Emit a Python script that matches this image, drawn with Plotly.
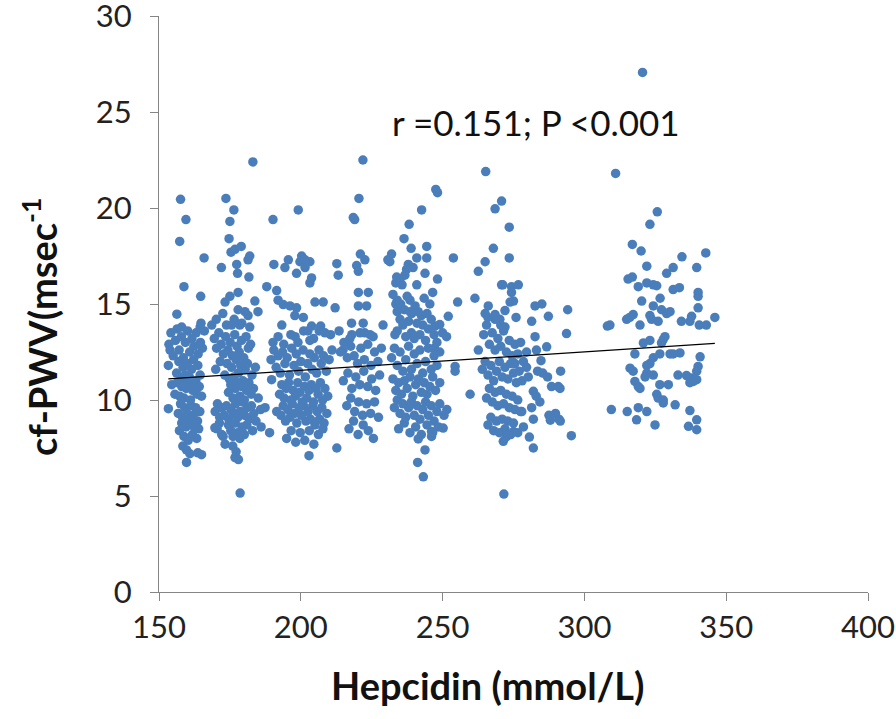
import plotly.graph_objects as go

# ---- data: (hepcidin, cf-PWV) pairs, per vertical cluster ----
cluster_a = [
    (157.6, 20.45), (159.5, 19.4), (157.3, 18.26), (165.9, 17.4), (158.8, 15.9), (164.7, 15.4),
    (156.3, 14.47), (164.8, 14.0), (164.5, 13.8), (158.0, 13.8),
    (153.9, 12.6), (153.3, 11.8), (154.5, 10.8), (153.3, 9.55), (159.7, 6.75), (163.7, 7.25), (165.0, 7.15),
    (153.5, 12.9), (154.2, 13.5), (155.0, 12.3), (155.8, 13.1), (156.4, 13.7), (157.1, 12.6), (157.9, 13.3),
    (158.6, 12.2), (159.3, 13.0), (160.1, 13.6), (160.8, 12.5), (161.6, 13.2), (162.3, 12.8), (163.1, 13.5),
    (163.8, 12.4), (164.6, 13.0), (165.3, 12.7),
    (156.2, 11.4), (157.0, 12.0), (157.8, 11.1), (158.5, 11.7), (159.2, 11.3), (160.0, 11.9), (160.7, 11.2),
    (161.5, 11.6), (162.2, 12.1), (163.0, 11.0), (163.7, 11.8), (164.5, 11.3),
    (155.6, 10.3), (156.5, 10.9), (157.3, 10.2), (158.0, 10.7), (158.8, 10.1), (159.6, 10.6), (160.3, 10.9),
    (161.1, 10.0), (161.9, 10.5), (162.6, 10.8), (163.4, 10.3), (164.2, 10.7), (165.0, 10.2),
    (156.8, 9.3), (157.6, 9.8), (158.3, 9.1), (159.1, 9.6), (159.9, 9.3), (160.6, 9.0), (161.4, 9.7),
    (162.1, 9.2), (162.9, 9.6), (163.6, 8.9), (164.4, 9.4),
    (157.2, 8.4), (158.0, 8.8), (158.8, 8.1), (159.5, 8.6), (160.3, 7.9), (161.0, 8.7), (161.8, 8.2),
    (162.5, 8.6), (163.3, 8.0), (164.0, 8.5), (158.4, 7.6), (159.7, 7.4), (160.9, 7.2),
]

cluster_b = [
    (173.6, 20.5), (176.4, 19.9), (175.0, 19.3), (174.7, 18.4), (176.8, 17.85), (179.0, 18.0), (175.4, 17.7),
    (172.0, 16.9), (177.4, 17.06), (177.7, 16.6), (181.4, 17.3), (182.0, 17.5), (181.7, 16.4), (183.1, 22.4),
    (177.9, 15.6), (175.0, 15.4), (173.3, 15.1), (183.8, 15.15), (177.9, 14.7), (180.3, 14.6), (181.4, 14.4),
    (184.9, 14.6), (175.6, 13.9), (178.5, 13.9), (188.0, 15.9),
    (170.2, 14.2), (172.5, 14.5), (173.8, 13.9), (176.5, 14.2), (179.2, 14.0), (182.0, 13.8), (168.6, 13.9), (166.0, 13.6),
    (169.5, 13.2), (170.3, 12.7), (171.1, 13.5), (171.9, 12.9), (172.7, 12.4), (173.5, 13.3), (174.3, 12.6),
    (175.1, 13.0), (175.9, 12.3), (176.7, 13.4), (177.5, 12.8), (178.3, 12.5), (179.1, 13.1), (179.9, 12.2),
    (180.7, 13.3), (181.5, 12.7), (182.3, 12.9),
    (170.0, 11.6), (171.6, 12.0), (173.2, 11.3), (174.0, 11.9), (174.8, 11.1), (175.6, 11.7), (176.4, 11.2),
    (177.2, 12.1), (178.0, 11.4), (178.8, 11.8), (179.6, 11.0), (180.4, 11.6), (181.2, 11.9), (182.8, 11.3), (184.0, 11.7),
    (174.5, 10.4), (175.3, 10.8), (176.1, 10.1), (176.9, 10.6), (177.7, 10.9), (178.5, 10.2), (179.3, 10.7),
    (180.1, 10.0), (180.9, 10.5), (181.7, 10.9), (182.5, 10.3), (183.3, 10.6), (185.0, 10.1),
    (169.8, 9.4), (170.6, 9.8), (171.4, 9.1), (172.2, 9.6), (173.0, 9.2), (173.8, 9.7), (174.6, 9.0),
    (175.4, 9.5), (176.2, 9.3), (177.0, 9.8), (177.8, 9.1), (178.6, 9.4), (179.4, 9.9), (180.2, 9.2),
    (181.0, 9.6), (181.8, 9.0), (182.6, 9.7), (183.4, 9.3), (184.2, 8.9), (185.8, 9.5),
    (170.5, 8.5), (171.3, 8.8), (172.1, 8.2), (174.5, 8.7), (175.3, 8.4), (176.1, 8.1), (176.9, 8.8),
    (177.7, 8.3), (178.5, 8.0), (179.3, 8.6), (180.1, 8.2), (181.0, 8.7), (183.0, 8.4), (186.0, 8.6),
    (176.0, 7.6), (177.2, 7.3), (178.0, 6.9),
    (169.7, 8.55), (172.6, 8.1), (173.3, 7.7), (176.8, 7.0), (178.6, 5.15), (189.0, 8.3), (187.4, 9.6),
]

cluster_c = [
    (190.2, 19.4), (190.5, 17.06), (199.1, 19.9), (200.3, 17.5), (201.5, 17.3), (199.7, 17.2), (195.6, 17.3),
    (194.4, 16.9), (203.2, 17.2), (201.5, 16.9), (198.5, 16.6), (203.8, 16.36), (203.2, 16.1),
    (191.5, 15.7), (192.0, 15.2), (193.8, 14.97), (196.2, 14.9), (198.5, 14.8), (197.9, 14.4), (200.9, 14.3),
    (205.0, 15.1), (207.9, 15.1), (193.3, 13.9), (203.8, 13.85), (207.0, 13.85),
    (191.5, 9.4), (189.7, 11.06), (212.7, 7.5), (202.9, 7.1),
    (189.5, 12.1), (190.5, 12.6), (191.3, 11.7), (192.0, 12.3), (192.8, 11.4), (193.6, 12.5), (194.4, 11.9),
    (195.2, 12.2), (196.0, 11.3), (196.8, 12.7), (197.6, 11.8), (198.4, 12.4), (199.2, 11.5), (200.0, 12.0),
    (200.8, 12.6), (201.6, 11.2), (202.4, 11.9), (203.2, 12.4), (204.0, 11.6), (204.8, 12.2), (205.6, 11.4),
    (206.4, 12.6), (207.2, 11.9), (208.0, 12.3), (209.0, 11.5), (210.0, 12.1), (211.0, 12.6),
    (192.5, 10.3), (193.3, 10.8), (194.1, 10.1), (194.9, 10.6), (195.7, 10.9), (196.5, 10.0), (197.3, 10.5),
    (198.1, 10.2), (198.9, 10.9), (199.7, 10.4), (200.5, 9.9), (201.3, 10.7), (202.1, 10.1), (202.9, 10.5),
    (203.7, 10.8), (204.5, 9.9), (205.3, 10.6), (206.1, 10.3), (206.9, 10.9), (207.7, 10.0), (208.5, 10.6), (209.5, 10.2),
    (193.0, 9.2), (193.8, 9.7), (194.6, 8.9), (195.4, 9.5), (196.2, 9.1), (197.0, 9.8), (197.8, 9.3),
    (198.6, 8.8), (199.4, 9.6), (200.2, 9.2), (201.0, 9.7), (201.8, 8.9), (202.6, 9.4), (203.4, 9.0),
    (204.2, 9.7), (205.0, 8.7), (205.8, 9.4), (206.6, 9.0), (207.4, 9.6), (208.2, 8.8), (209.2, 9.3),
    (195.0, 8.0), (196.6, 8.4), (198.2, 7.8), (199.8, 8.3), (201.4, 7.9), (203.0, 8.4), (204.6, 7.7),
    (206.2, 8.2), (207.8, 8.5),
    (190.2, 13.0), (192.0, 13.3), (194.0, 12.9), (196.5, 13.4), (198.0, 13.3), (199.0, 13.0), (201.0, 13.6),
    (202.5, 13.6), (204.5, 13.2), (206.5, 13.6), (208.5, 13.5), (210.5, 13.4), (203.2, 13.1),
]

cluster_d = [
    (220.5, 20.5), (218.5, 19.5), (219.0, 19.4), (221.9, 22.5), (212.7, 17.1), (213.2, 16.5), (221.0, 17.6),
    (222.6, 17.3), (219.7, 17.0), (220.3, 16.7), (212.1, 14.8), (220.3, 15.6), (223.8, 15.6), (220.3, 14.9),
    (223.2, 14.9), (217.9, 14.0), (222.0, 14.0), (229.0, 13.9),
    (220.9, 13.5), (224.4, 13.4), (217.3, 13.2), (214.9, 12.6),
    (214.0, 12.5), (215.2, 13.0), (216.4, 12.2), (217.6, 12.8), (218.8, 12.3), (220.0, 11.9), (221.2, 12.7),
    (222.4, 12.1), (223.6, 12.9), (224.8, 11.8), (226.0, 12.5), (227.2, 12.0), (228.4, 12.7),
    (215.0, 11.0), (216.6, 11.4), (218.0, 10.6), (219.4, 11.2), (220.8, 10.8), (222.2, 11.5), (223.6, 10.7),
    (225.0, 11.1), (226.4, 10.5), (227.8, 11.3),
    (216.2, 9.7), (217.6, 10.1), (219.0, 9.4), (220.4, 9.9), (221.8, 9.2), (223.2, 9.8), (224.6, 9.3),
    (226.0, 9.9), (227.4, 9.1),
    (217.0, 8.5), (218.6, 8.9), (220.2, 8.2), (222.0, 8.7), (223.8, 8.4), (225.6, 8.0),
    (213.5, 13.6), (218.0, 13.4), (222.5, 13.5), (225.5, 13.3),
]

cluster_e = [
    (247.6, 20.97), (248.2, 20.8), (242.6, 19.9), (238.2, 19.15), (236.4, 18.4), (238.9, 17.9), (244.4, 18.0),
    (230.7, 17.3), (232.0, 17.6), (231.4, 17.2), (240.9, 17.4), (244.4, 17.4), (253.8, 17.4),
    (237.9, 17.06), (239.6, 16.9), (237.3, 16.8), (243.8, 16.6), (233.8, 16.4), (235.0, 16.3), (233.5, 16.1),
    (235.7, 16.0), (236.7, 16.5), (248.2, 16.3), (240.9, 16.0),
    (234.0, 15.2), (235.2, 15.0), (238.5, 15.2), (240.3, 14.9), (241.4, 14.6), (234.0, 14.6), (239.1, 14.5),
    (255.3, 15.1), (252.0, 14.36), (247.3, 13.85), (249.0, 13.93), (233.2, 13.4), (251.4, 13.3), (247.1, 12.7),
    (254.4, 11.75), (254.4, 11.5), (250.2, 8.54), (241.4, 7.97), (246.1, 8.1), (246.1, 8.36), (243.8, 7.4),
    (241.2, 6.75), (243.2, 6.0),
    (232.5, 15.5), (233.5, 15.0), (236.5, 14.7), (237.5, 15.4), (238.5, 14.6), (242.5, 14.4), (243.5, 15.3),
    (244.5, 14.5), (245.5, 15.0), (246.5, 15.6),
    (234.0, 13.6), (235.0, 14.2), (236.0, 13.9), (237.0, 13.3), (238.0, 14.1), (239.0, 13.5), (240.0, 13.2),
    (241.0, 14.0), (242.0, 13.4), (243.0, 13.9), (244.0, 13.1), (245.0, 13.7), (246.0, 14.2), (247.0, 13.4),
    (248.0, 13.0), (250.0, 13.5),
    (232.0, 12.2), (233.0, 12.7), (234.0, 11.8), (235.0, 12.5), (236.0, 11.5), (237.0, 12.1), (238.0, 12.8),
    (239.0, 11.6), (240.0, 12.4), (241.0, 11.9), (242.0, 12.6), (243.0, 11.4), (244.0, 12.0), (245.0, 12.7),
    (246.0, 11.6), (247.0, 12.3), (248.0, 11.8), (249.0, 12.5),
    (232.5, 11.1), (233.5, 10.5), (234.5, 10.9), (235.5, 10.3), (236.5, 11.0), (237.5, 10.6), (238.5, 11.2),
    (239.5, 10.2), (240.5, 10.8), (241.5, 11.1), (242.5, 10.4), (243.5, 10.9), (244.5, 10.3), (245.5, 10.7),
    (246.5, 11.2), (247.5, 10.5), (249.0, 10.9),
    (233.0, 9.6), (234.0, 10.0), (235.0, 9.3), (236.0, 9.8), (237.0, 9.1), (238.0, 9.6), (239.0, 9.9),
    (240.0, 9.2), (241.0, 9.7), (242.0, 9.0), (243.0, 9.5), (244.0, 9.9), (245.0, 9.2), (246.0, 9.7),
    (247.0, 8.9), (248.0, 9.4), (249.0, 9.8), (250.5, 9.2), (251.5, 9.5),
    (234.5, 8.5), (236.5, 8.8), (238.5, 8.3), (240.5, 8.6), (242.5, 8.2), (244.5, 8.7), (246.5, 8.3), (248.5, 8.6),
]

cluster_f = [
    (265.2, 21.9), (270.8, 20.36), (268.5, 19.96), (273.5, 19.0), (267.9, 17.9), (273.5, 17.4), (265.0, 17.2),
    (262.6, 16.7), (270.8, 16.0), (271.2, 16.0), (274.3, 15.9), (276.7, 16.0), (274.3, 15.6), (261.4, 15.3),
    (266.1, 14.9), (273.8, 15.1), (275.0, 15.15), (272.0, 14.66), (282.6, 14.9), (285.0, 15.0), (265.0, 14.5),
    (268.5, 14.45), (270.2, 14.2), (275.9, 14.3), (281.4, 14.1), (287.3, 14.36), (294.1, 14.7),
    (262.6, 12.6), (259.7, 10.3), (282.6, 13.3), (293.7, 13.46), (286.7, 12.77), (283.1, 12.6), (279.6, 12.5),
    (284.7, 12.05), (275.5, 11.9), (279.6, 11.7), (280.2, 11.2), (283.5, 11.5), (285.3, 11.4), (287.0, 11.2),
    (291.6, 11.5), (288.4, 10.7), (290.8, 10.7), (291.4, 10.6), (282.0, 10.45), (283.0, 10.2), (284.3, 9.9),
    (277.9, 9.4), (281.4, 9.6), (282.0, 9.0), (287.5, 9.2), (289.8, 9.3), (291.0, 9.0), (288.0, 8.95),
    (291.5, 8.9), (278.5, 8.6), (275.0, 8.36), (272.6, 8.1), (271.4, 7.85), (280.6, 8.07), (282.0, 7.5),
    (295.4, 8.14), (271.6, 5.1),
    (264.5, 13.4), (265.5, 13.9), (266.5, 12.9), (267.5, 13.5), (268.5, 12.6), (269.5, 13.2), (270.5, 12.8),
    (271.5, 13.6), (272.5, 12.5), (273.5, 13.1), (274.5, 12.3), (275.5, 12.9), (276.5, 12.4), (277.5, 13.0),
    (264.0, 11.6), (265.0, 12.0), (266.0, 11.3), (267.0, 11.8), (268.0, 11.0), (269.0, 11.5), (270.0, 12.0),
    (271.0, 11.2), (272.0, 11.7), (273.0, 11.1), (274.0, 11.9), (275.0, 11.4), (276.0, 10.9), (277.0, 11.5),
    (278.0, 11.0),
    (265.5, 10.1), (266.5, 10.6), (267.5, 9.9), (268.5, 10.4), (269.5, 9.7), (270.5, 10.5), (271.5, 9.8),
    (272.5, 10.3), (273.5, 9.6), (274.5, 10.2), (275.5, 9.5), (276.5, 10.0), (277.5, 9.4),
    (266.0, 8.7), (267.0, 9.1), (268.0, 8.4), (269.0, 8.9), (270.0, 8.3), (271.0, 9.0), (272.0, 8.5),
    (273.0, 8.9), (274.0, 8.2), (275.0, 8.8), (276.5, 8.3),
    (268.5, 14.2), (270.5, 13.9), (266.0, 14.3), (272.0, 13.8), (278.5, 12.0),
]

cluster_g = [
    (320.5, 27.06), (311.0, 21.8), (325.7, 19.8), (323.1, 19.15), (316.9, 18.1), (320.0, 17.76), (334.4, 17.46),
    (342.8, 17.66), (322.0, 16.97), (329.0, 16.6), (331.3, 16.9), (339.6, 16.9), (315.4, 16.3), (316.9, 16.4),
    (319.0, 15.9), (322.0, 16.1), (324.3, 16.0), (325.5, 15.95), (331.3, 15.75), (333.5, 15.85), (340.1, 15.6),
    (340.1, 15.4), (326.7, 15.3), (320.2, 15.15), (324.3, 14.9), (327.2, 14.7), (330.2, 14.6), (329.0, 14.5),
    (340.1, 14.8), (317.2, 14.45), (316.0, 14.3), (314.9, 14.2), (323.1, 14.4), (323.7, 14.2), (334.2, 14.1),
    (337.8, 14.36), (337.2, 14.1), (309.0, 13.9), (319.6, 13.9), (326.0, 14.1), (346.0, 14.3), (340.5, 13.9),
    (343.0, 13.9), (308.1, 13.85),
    (320.8, 12.97), (323.1, 13.1), (327.2, 12.97), (328.4, 13.3), (327.8, 13.15), (317.8, 12.4), (324.3, 12.2),
    (326.6, 12.4), (323.1, 11.9), (322.0, 11.8), (330.2, 12.4), (333.7, 12.45), (331.3, 12.4), (340.8, 12.25),
    (316.1, 11.66), (317.2, 11.5), (322.0, 11.4), (324.3, 11.3), (321.4, 11.2), (340.1, 11.75), (339.6, 11.5),
    (333.0, 11.3), (336.0, 11.27), (337.8, 11.15), (338.4, 10.97), (337.2, 10.9), (339.6, 11.06),
    (317.8, 10.97), (319.0, 10.7), (319.6, 10.6), (326.6, 10.8), (329.6, 10.8), (325.5, 10.3), (326.0, 10.1),
    (327.8, 10.0), (327.8, 9.85), (332.0, 9.75), (315.1, 9.4), (319.0, 9.6), (322.0, 9.4), (337.2, 9.45),
    (318.4, 8.97), (324.9, 8.7), (339.6, 8.97), (336.7, 8.63), (339.6, 8.45), (309.5, 9.5),
]

trend_x = [153.3, 346.0]
trend_y = [11.1, 12.95]

x_ticks = [150, 200, 250, 300, 350, 400]
y_ticks = [0, 5, 10, 15, 20, 25, 30]

points = cluster_a + cluster_b + cluster_c + cluster_d + cluster_e + cluster_f + cluster_g
hep = [p[0] for p in points]
pwv = [p[1] for p in points]

FONT = "Lato"
fig = go.Figure()
fig.add_trace(go.Scatter(
    x=hep, y=pwv, mode="markers",
    marker=dict(color="#4A7EBB", size=9.5, line=dict(width=0)),
    showlegend=False, hoverinfo="skip",
))
fig.add_trace(go.Scatter(
    x=trend_x, y=trend_y, mode="lines",
    line=dict(color="black", width=1.3), showlegend=False, hoverinfo="skip",
))

axis_common = dict(
    showgrid=False, zeroline=False, showline=True, linecolor="#868686", linewidth=1.3,
    ticks="outside", ticklen=8, tickcolor="#868686", tickwidth=1.3,
    tickfont=dict(family=FONT, size=31, color="#222222"),
    ticklabeloverflow="allow", automargin=False,
)
fig.update_xaxes(range=[150, 400], tickvals=x_ticks, **axis_common)
fig.update_yaxes(range=[0, 30], tickvals=y_ticks, ticklabelstandoff=12, **axis_common)

fig.add_annotation(
    text="<b>Hepcidin (mmol/L)</b>",
    xref="paper", yref="paper", x=0.464, y=0, xanchor="center", yanchor="middle",
    yshift=-93, showarrow=False, font=dict(family=FONT, size=38, color="#111111"),
)
fig.add_annotation(
    text="<b>cf-PWV(msec<sup>-1</sup></b>", textangle=-90,
    xref="paper", yref="paper", x=0, y=0.46, xanchor="center", yanchor="middle",
    xshift=-119, showarrow=False, font=dict(family=FONT, size=38, color="#111111"),
)
fig.add_annotation(
    text="r =0.151; P <0.001", xref="x", yref="y", x=334.4, y=24.47,
    xanchor="right", yanchor="middle", showarrow=False,
    font=dict(family=FONT, size=35, color="#111111"),
)

fig.update_layout(
    width=896, height=719,
    margin=dict(l=159, r=28, t=16, b=127, autoexpand=False),
    plot_bgcolor="white", paper_bgcolor="white",
)
fig.write_html(
    "out.html",
    config={"displayModeBar": False},
    post_script="document.body.style.margin='0';document.body.style.overflow='hidden';",
)
